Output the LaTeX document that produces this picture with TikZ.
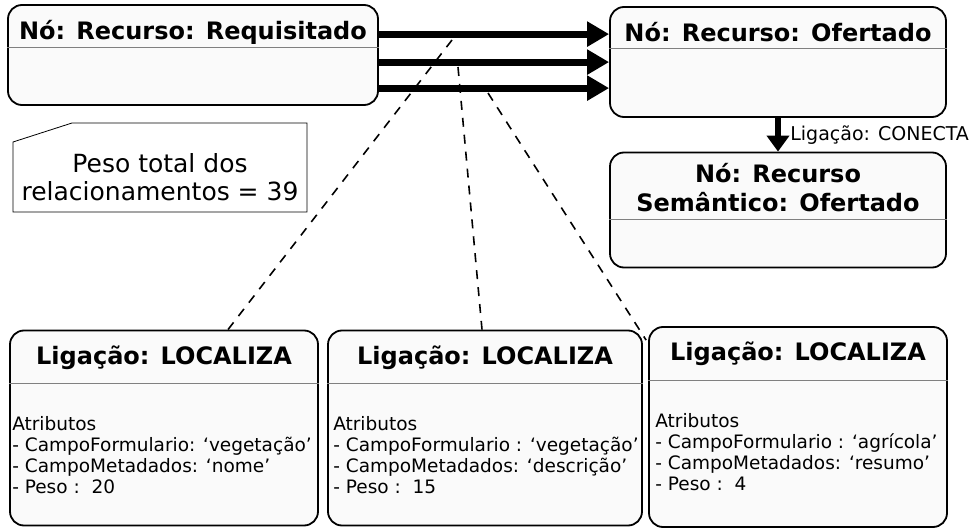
\documentclass[tikz,border=0pt]{standalone}
\usepackage{fontspec}
\setmainfont{DejaVu Sans}
\usetikzlibrary{calc,arrows.meta,positioning}

\tikzset{
  nobox/.style={draw=black, line width=1.8pt, rounded corners=14pt, fill=black!2, inner sep=0pt},
  headtxt/.style={font=\fontsize{24}{29}\selectfont\bfseries, align=center, inner sep=0pt},
  attrtxt/.style={font=\fontsize{18.5}{21}\selectfont, align=left, anchor=north west, inner sep=0pt},
  sepline/.style={draw=gray, line width=0.8pt},
  fatarrow/.style={line width=7pt, -{Triangle[length=22pt,width=24pt]}},
  linkline/.style={line width=1.6pt, dash pattern=on 9pt off 8pt},
}

\begin{document}
\begin{tikzpicture}[x=1pt,y=-1pt]
   \useasboundingbox (0,0) rectangle (975,532);
   % nos de recurso
   \node[nobox, minimum width=370pt, minimum height=100pt] (req) at (193,55) {};
   \node[nobox, minimum width=336pt, minimum height=110pt] (ofe) at (778,62) {};
   \node[nobox, minimum width=336pt, minimum height=115pt] (sem) at (778,210) {};
   \node[headtxt] (reqhead) at ([yshift=-28pt]req.north) {Nó: Recurso: Requisitado};
   \node[headtxt] (ofehead) at ([yshift=-26pt]ofe.north) {Nó: Recurso: Ofertado};
   \node[headtxt] (semhead) at ([yshift=-36pt]sem.north) {Nó: Recurso\\Semântico: Ofertado};
   \draw[sepline] ([yshift=-43pt]req.north west) -- ([yshift=-43pt]req.north east);
   \draw[sepline] ([yshift=-42pt]ofe.north west) -- ([yshift=-42pt]ofe.north east);
   \draw[sepline] ([yshift=-68pt]sem.north west) -- ([yshift=-68pt]sem.north east);
   % peso total
   \draw[line width=0.8pt, fill=white] (13,142) -- (72,123) -- (307,123) -- (307,212) -- (13,212) -- cycle;
   \node[font=\fontsize{25}{28}\selectfont, align=center] (peso) at (160,177) {Peso total dos\\relacionamentos = 39};
   % ligacoes localiza
   \node[nobox, minimum width=308pt, minimum height=195pt] (loc1) at (164,428) {};
   \node[nobox, minimum width=314pt, minimum height=195pt] (loc2) at (485,428) {};
   \node[nobox, minimum width=298pt, minimum height=200pt] (loc3) at (798,427) {};
   \foreach \b in {loc1,loc2,loc3} {
     \node[headtxt] (\b head) at ([yshift=-28pt]\b.north) {Ligação: LOCALIZA};
     \draw[sepline] ([yshift=-54pt]\b.north west) -- ([yshift=-54pt]\b.north east);
   }
   \node[attrtxt] (attr1) at ([xshift=3pt,yshift=-87pt]loc1.north west) {Atributos\\- CampoFormulario: ‘vegetação’\\- CampoMetadados: ‘nome’\\- Peso :\ \ 20};
   \node[attrtxt] (attr2) at ([xshift=6pt,yshift=-87pt]loc2.north west) {Atributos\\- CampoFormulario : ‘vegetação’\\- CampoMetadados: ‘descrição’\\- Peso :\ \ 15};
   \node[attrtxt] (attr3) at ([xshift=7pt,yshift=-87pt]loc3.north west) {Atributos\\- CampoFormulario : ‘agrícola’\\- CampoMetadados: ‘resumo’\\- Peso :\ \ 4};
   % relacionamentos
   \coordinate (r1) at ([yshift=-30pt]req.north east);
   \coordinate (r2) at ([yshift=-58pt]req.north east);
   \coordinate (r3) at ([yshift=-84pt]req.north east);
   \coordinate (d1) at (452,40);
   \coordinate (d2) at (458,67);
   \coordinate (d3) at (488,93);
   \draw[linkline] (d1) -- ([xshift=64pt]loc1.north);
   \draw[linkline] (d2) -- ([xshift=-3pt]loc2.north);
   \draw[linkline] (d3) -- ($(loc3.north west)+(-2,14)$);
   \draw[fatarrow] (r1) -- (r1 -| ofe.west);
   \draw[fatarrow] (r2) -- (r2 -| ofe.west);
   \draw[fatarrow] (r3) -- (r3 -| ofe.west);
   \draw[line width=6pt, -{Triangle[length=16pt,width=22pt]}] (ofe.south) -- (sem.north)
     node[midway, right=6pt, font=\fontsize{19}{22}\selectfont] (conecta) {Ligação: CONECTA};
\end{tikzpicture}
\end{document}
